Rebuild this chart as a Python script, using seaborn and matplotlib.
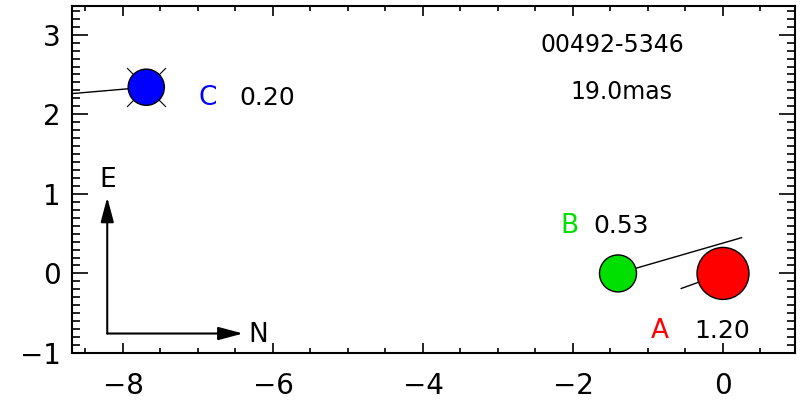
import numpy as np
import pandas as pd
import matplotlib
matplotlib.use("Agg")
import matplotlib.pyplot as plt
from matplotlib.ticker import MultipleLocator
import seaborn as sns

# Components of the system: relative offsets (arcsec) and brightness ratios
names = ["A", "B", "C"]
x_off = [0.0, -1.40, -7.69]
y_off = [0.0, 0.0, 2.34]
flux = [1.20, 0.53, 0.20]
colors = ["#ff0000", "#00e000", "#0000ff"]
marker_area = [1400, 710, 680]

# Position-angle segments drawn from each component
seg_A = ([-0.56, 0.0], [-0.19, 0.0])
seg_B = ([-1.40, 0.25], [0.0, 0.45])
seg_C = ([-8.68, -7.69], [2.26, 2.34])

title_id = "00492-5346"
resolution = "19.0mas"

sns.set_style("ticks")
plt.rcParams["font.family"] = ["DejaVu Sans"]
plt.rcParams["text.color"] = "black"

df = pd.DataFrame({"x": x_off, "y": y_off, "name": names})

fig = plt.figure(figsize=(8.0, 4.04), dpi=100)
ax = fig.add_axes([0.09, 0.1262, 0.90375, 0.8588])

for xs, ys in (seg_A, seg_B, seg_C):
    ax.plot(xs, ys, color="black", lw=1.0, zorder=1)

# crossed mark behind component C
sns.scatterplot(data=df[df["name"] == "C"], x="x", y="y", marker="x",
                s=28 ** 2, color="black", linewidth=0.8, legend=False,
                ax=ax, zorder=2)

sns.scatterplot(data=df, x="x", y="y", hue="name", size="name",
                palette=dict(zip(names, colors)),
                sizes=dict(zip(names, marker_area)),
                edgecolor="black", linewidth=1.0, legend=False,
                ax=ax, zorder=3)

# labels: component letter and flux ratio
label_pos = {"A": (-0.84, -0.01, -0.72), "B": (-2.05, -1.36, 0.60),
             "C": (-6.87, -6.07, 2.20)}
for n, f, c in zip(names, flux, colors):
    lx, vx, ly = label_pos[n]
    ax.text(lx, ly, n, color=c, fontsize=19, ha="center", va="center")
    ax.text(vx, ly, f"{f:.2f}", color="black", fontsize=18,
            ha="center", va="center")

ax.text(-1.48, 2.87, title_id, color="black", fontsize=17,
        ha="center", va="center")
ax.text(-1.35, 2.28, resolution, color="black", fontsize=17,
        ha="center", va="center")

# compass
cx, cy = -8.21, -0.755
arrow_style = dict(arrowstyle="-|>,head_length=1.5,head_width=0.4",
                   color="black", lw=1.5, shrinkA=0, shrinkB=0)
ax.annotate("", xy=(cx, 0.956), xytext=(cx, cy), arrowprops=arrow_style)
ax.annotate("", xy=(-6.40, cy), xytext=(cx, cy), arrowprops=arrow_style)
ax.text(-8.20, 1.17, "E", color="black", fontsize=19, ha="center", va="center")
ax.text(-6.19, -0.77, "N", color="black", fontsize=19, ha="center", va="center")

ax.set_xlim(-8.68, 0.96)
ax.set_ylim(-1.0, 3.36)
ax.set_xlabel("")
ax.set_ylabel("")

ax.xaxis.set_major_locator(MultipleLocator(2))
ax.xaxis.set_minor_locator(MultipleLocator(0.5))
ax.yaxis.set_major_locator(MultipleLocator(1))
ax.yaxis.set_minor_locator(MultipleLocator(0.1))

ax.tick_params(axis="both", which="both", direction="in",
               top=True, right=True, colors="black", labelsize=20, width=1.2)
ax.tick_params(axis="x", which="major", length=7, pad=14)
ax.tick_params(axis="x", which="minor", length=3.5)
ax.tick_params(axis="y", which="major", length=11.5, pad=8)
ax.tick_params(axis="y", which="minor", length=5.8)
for sp in ax.spines.values():
    sp.set_visible(True)
    sp.set_color("black")
    sp.set_linewidth(1.5)

fig.savefig("out.png", dpi=100, facecolor="white")
